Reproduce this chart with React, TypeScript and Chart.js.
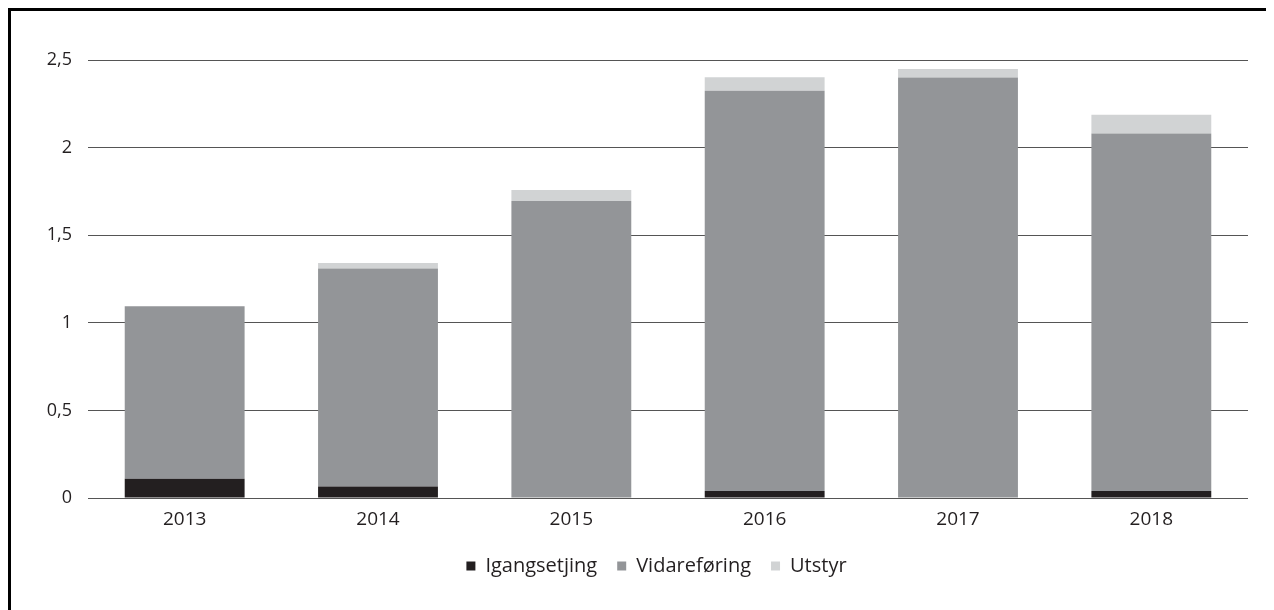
import React, { useEffect, useRef } from "react";
import { Chart, registerables } from "chart.js";

Chart.register(...registerables);

const years = ["2013", "2014", "2015", "2016", "2017", "2018"];
const igangsetjing = [0.11, 0.065, 0, 0.04, 0, 0.04];
const vidareforing = [0.985, 1.245, 1.695, 2.285, 2.4, 2.04];
const utstyr = [0, 0.032, 0.063, 0.076, 0.048, 0.108];
const yTicks = [0, 0.5, 1, 1.5, 2, 2.5];

const FONT = "'Open Sans', 'Noto Sans', sans-serif";
const TEXT = "#231f20";

const shiftLegend = {
  id: "shiftLegend",
  afterLayout(chart: any) {
    if (chart.legend) {
      chart.legend.left += 27;
      chart.legend.right += 27;
    }
  },
};

export default function App() {
  const ref = useRef<HTMLCanvasElement | null>(null);

  useEffect(() => {
    document.body.style.overflow = "hidden";
    const ctx = ref.current;
    if (!ctx) return;
    const chart = new Chart(ctx, {
      type: "bar",
      data: {
        labels: years,
        datasets: [
          { label: "Igangsetjing", data: igangsetjing, backgroundColor: "#231f20" },
          { label: "Vidareføring", data: vidareforing, backgroundColor: "#939598" },
          { label: "Utstyr", data: utstyr, backgroundColor: "#d1d3d4" },
        ],
      },
      plugins: [shiftLegend],
      options: {
        animation: false,
        responsive: false,
        maintainAspectRatio: false,
        datasets: { bar: { categoryPercentage: 1, barPercentage: 0.62, borderWidth: 0 } },
        layout: { padding: { left: 0, right: 26, top: 49, bottom: 24 } },
        plugins: {
          tooltip: { enabled: false },
          legend: {
            position: "bottom",
            labels: {
              boxWidth: 9,
              boxHeight: 9,
              padding: 20,
              color: TEXT,
              font: { family: FONT, size: 20 },
            },
          },
        },
        scales: {
          x: {
            stacked: true,
            afterFit: (s: any) => {
              s.height = 38;
            },
            grid: { display: false, drawTicks: false },
            border: { display: false },
            ticks: { color: TEXT, padding: 10, font: { family: FONT, size: 19 } },
          },
          y: {
            stacked: true,
            min: 0,
            max: 2.5,
            afterFit: (s: any) => {
              s.width = 77;
            },
            afterBuildTicks: (s: any) => {
              s.ticks = yTicks.map((v) => ({ value: v }));
            },
            grid: { color: "#555555", lineWidth: 1, drawTicks: false },
            border: { display: false },
            ticks: {
              color: TEXT,
              padding: 16,
              font: { family: FONT, size: 18 },
              callback: (v: any) => String(v).replace(".", ","),
            },
          },
        },
      },
    });
    return () => chart.destroy();
  }, []);

  return (
    <div
      style={{
        borderLeft: "3px solid #000",
        borderTop: "3px solid #000",
        width: 1263,
        height: 599,
        overflow: "hidden",
      }}
    >
      <canvas ref={ref} width={1263} height={599} style={{ display: "block" }} />
    </div>
  );
}
